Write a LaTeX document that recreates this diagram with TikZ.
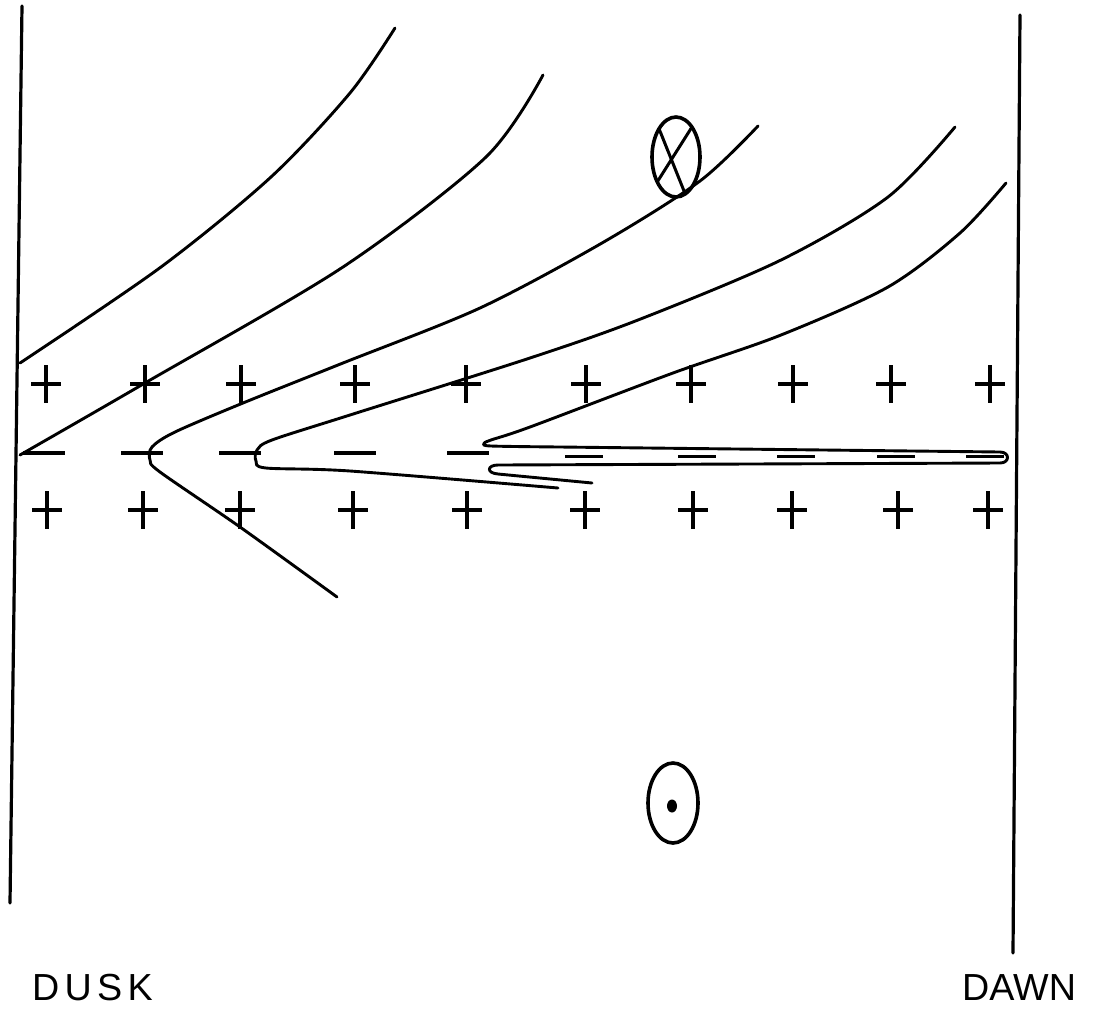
\documentclass[tikz,border=0pt]{standalone}
\usepackage{fontspec}
\setmainfont{Liberation Sans}
\usetikzlibrary{shapes.geometric}
\begin{document}
\begin{tikzpicture}[x=1pt,y=-1pt,
  fieldline/.style={line width=2.9pt, line cap=round, line join=round},
  boundary/.style={line width=3.2pt, line cap=round},
  signmark/.style={line width=3.8pt},
  tubedash/.style={line width=3.4pt},
  sunlabel/.style={inner sep=0pt, anchor=base west, font=\fontsize{37.7}{40}\selectfont},
  flux/.style={draw, ellipse, line width=3.6pt, inner sep=0pt, outer sep=0pt}]
\useasboundingbox (0,0) rectangle (1093,1013);
\fill[white] (0,0) rectangle (1093,1013);

% boundaries
\coordinate (lt) at (22,6);
\coordinate (lb) at (10,903);
\coordinate (rt) at (1020,15);
\coordinate (rb) at (1013,953);
\draw[boundary] (lt) -- (lb);
\draw[boundary] (rt) -- (rb);

% field lines
\draw[fieldline] plot[smooth] coordinates {(20,363) (161,267) (271,177) (350,93) (395,28)};
\draw[fieldline] plot[smooth] coordinates {(20,455) (145,383) (343,267) (486,157) (543,75)};
\draw[fieldline] plot[smooth] coordinates {(758,126) (700,181) (602,243) (480,308) (343,363) (243,403) (175,432) (152,447) (150,460) (160,472) (240,527) (337,597)};
\draw[fieldline] plot[smooth] coordinates {(955,127) (888,197) (781,260) (638,320) (530,358) (350,415) (272,440) (257,450) (256,461) (266,468) (350,471) (558,488)};
\draw[fieldline] plot[smooth] coordinates {(1006,183) (960,233) (888,287) (781,335) (673,373) (530,427) (491,440) (484,443.5) (491,446) (560,447)}
  -- (1000,452) .. controls (1010,452) and (1010,463) .. (1000,463)
  -- (498,465) .. controls (487,465) and (486,473) .. (498,474) -- (592,483);

% plus signs
\foreach \x in {46,145,241,355,466,586,691,793,891,990}
  \draw[signmark] (\x-15,384) -- (\x+15,384) (\x,365) -- (\x,403);
\foreach \x in {47,143,240,353,467,585,693,792,898,988}
  \draw[signmark] (\x-15,510) -- (\x+15,510) (\x,491) -- (\x,529);

% minus signs
\foreach \x in {44,142,240,355,468}
  \draw[signmark] (\x-21,453) -- (\x+21,453);
\foreach \x in {584,697,796,896,985}
  \draw[tubedash] (\x-19,456.5) -- (\x+19,456.5);

% flux symbols
\node[flux, minimum width=48pt, minimum height=80pt] (into) at (676,157) {};
\draw[line width=3pt] (into.121) -- (into.-76);
\draw[line width=3pt] (into.62) -- (into.-127);
\node[flux, minimum width=50pt, minimum height=80pt] (outof) at (673,803) {};
\fill (672,806) ellipse [x radius=5pt, y radius=6.5pt];

% labels
\node[sunlabel] (dusk) at (32,1000) {\addfontfeature{LetterSpace=14}DUSK};
\node[sunlabel] (dawn) at (962,1000) {DAWN};
\end{tikzpicture}
\end{document}
